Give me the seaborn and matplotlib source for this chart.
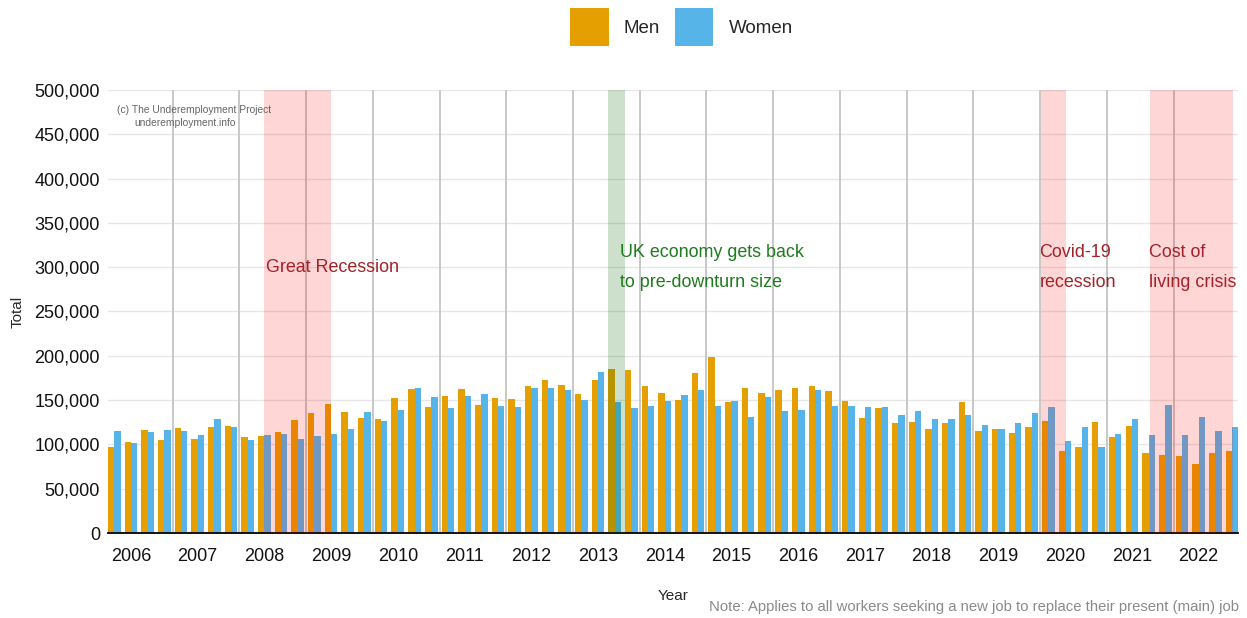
import matplotlib
matplotlib.use("Agg")
import matplotlib.pyplot as plt
import pandas as pd
import seaborn as sns

# quarterly totals, 2006-2022 (four periods per year)
years = list(range(2006, 2023))
men = [97.4, 102.7, 116.6, 105.0, 118.5, 106.1, 119.6, 120.8, 108.0, 109.1,
       114.4, 127.2, 135.4, 146.0, 136.6, 130.2, 129.0, 152.4, 162.5, 141.9,
       154.3, 162.5, 144.8, 152.4, 151.2, 165.9, 173.0, 167.0, 156.5, 173.0,
       184.7, 183.6, 165.9, 157.7, 150.1, 180.6, 198.6, 147.9, 163.7, 157.7,
       161.4, 163.7, 165.9, 160.6, 149.0, 130.2, 140.7, 123.8, 124.9, 117.4,
       123.8, 147.9, 115.5, 117.7, 112.7, 119.6, 126.0, 92.2, 96.7, 124.9,
       108.0, 120.8, 90.3, 88.0, 86.9, 77.5, 90.3, 92.2]
women = [115.5, 101.6, 114.4, 116.6, 115.5, 110.2, 129.0, 119.6, 105.0, 110.2,
         112.1, 106.1, 109.1, 112.1, 117.4, 136.6, 126.0, 138.8, 163.7, 153.1,
         140.7, 154.3, 156.5, 143.0, 141.9, 163.7, 163.7, 161.4, 150.1, 181.7,
         147.9, 140.7, 143.7, 149.0, 155.4, 161.4, 143.0, 149.0, 131.3, 153.1,
         137.7, 138.8, 161.4, 143.7, 143.7, 141.9, 141.9, 133.2, 137.7, 128.3,
         129.0, 133.2, 121.9, 117.7, 123.8, 135.4, 141.9, 103.8, 119.6, 96.7,
         111.4, 129.0, 110.2, 144.8, 110.2, 131.3, 115.5, 119.6]
quarters = [f"{y} P{q}" for y in years for q in range(1, 5)]

# shaded periods (in quarter positions) and their labels
recessions = [(9.0, 13.0), (55.55, 57.05), (62.1, 67.05)]
recovery = (29.6, 30.6)
notes = [(9.1, "Great Recession"), (55.45, "Covid-19\nrecession"),
         (62.05, "Cost of\nliving crisis")]

palette = {"Men": "#E69F00", "Women": "#56B4E9"}
RED = "#A3222A"
GREEN = "#1E7B1E"

df = pd.DataFrame({
    "Quarter": quarters * 2,
    "Total": [v * 1000 for v in men + women],
    "Sex": ["Men"] * len(men) + ["Women"] * len(women),
})

sns.set_style("white")
plt.rcParams["font.family"] = ["Liberation Sans", "DejaVu Sans"]

fig = plt.figure(figsize=(12.47, 6.18), dpi=100)
ax = fig.add_axes([0.0868, 0.13754, 0.9062, 0.71683])

sns.barplot(data=df, x="Quarter", y="Total", hue="Sex", order=quarters,
            palette=palette, width=0.76, saturation=1, linewidth=0, ax=ax)

for k in range(len(years) - 1):
    ax.axvline(3.5 + 4 * k, color="#c8c8c8", lw=1.4, zorder=0.6)
for a, b in recessions:
    ax.axvspan(a, b, color="red", alpha=0.16, lw=0, zorder=3)
ax.axvspan(*recovery, color="darkgreen", alpha=0.2, lw=0, zorder=3)

for x, txt in notes:
    ax.text(x, 300000, txt, color=RED, fontsize=12.9, ha="left", va="center",
            linespacing=2.0, zorder=4)
ax.text(30.3, 300000, "UK economy gets back\nto pre-downturn size", color=GREEN,
        fontsize=12.9, ha="left", va="center", linespacing=2.0, zorder=4)
ax.text(0.18, 477000, "(c) The Underemployment Project", color="#666666",
        fontsize=7.4, va="center")
ax.text(1.2, 462500, "underemployment.info", color="#666666", fontsize=7.4,
        va="center")

ax.set_ylim(0, 500000)
ax.set_xlim(-0.36, 67.38)
ax.set_yticks(range(0, 500001, 50000))
ax.set_yticklabels([f"{v:,}" for v in range(0, 500001, 50000)])
ax.yaxis.grid(True, color="#e6e6e6", lw=1)
ax.set_axisbelow(True)
ax.set_xticks(range(len(quarters)),
              [str(years[i // 4]) if i % 4 == 1 else "" for i in range(len(quarters))])
ax.tick_params(axis="x", length=5.5, width=1.4, color="black", pad=5,
               labelsize=13, labelcolor="#111111")
ax.tick_params(axis="y", length=0, pad=6, labelsize=13, labelcolor="#111111")
sns.despine(ax=ax, left=True)
ax.spines["bottom"].set_color("black")
ax.spines["bottom"].set_linewidth(1.3)
ax.set_xlabel("Year", fontsize=11, labelpad=17.5)
ax.set_ylabel("Total", fontsize=11, labelpad=7)

sns.move_legend(ax, "center", bbox_to_anchor=(0.5465, 0.956),
                bbox_transform=fig.transFigure, ncol=2, frameon=False,
                title=None, fontsize=13.5, handlelength=2.05, handleheight=2.78,
                handletextpad=0.8, columnspacing=0.8)

fig.text(0.9935, 0.017, "Note: Applies to all workers seeking a new job to replace "
         "their present (main) job", ha="right", va="center", fontsize=10.7,
         color="#8a8a8a")

fig.savefig("out.png", dpi=100)
